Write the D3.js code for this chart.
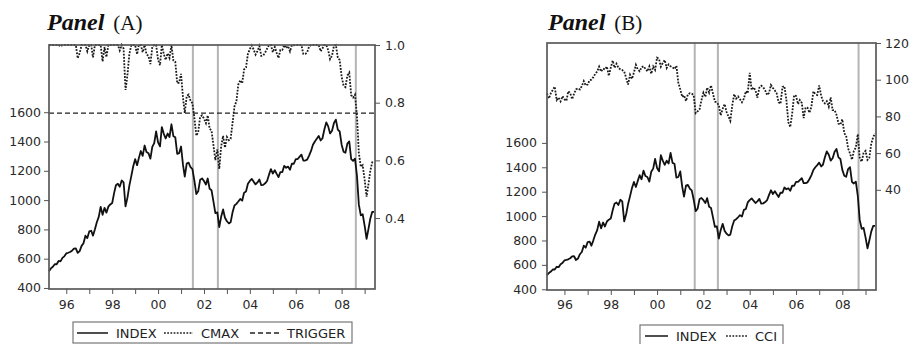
<!DOCTYPE html>
<html>
<head>
<meta charset="utf-8">
<script src="https://cdn.jsdelivr.net/npm/d3@7"></script>
<style>
  body { margin: 0; background: #fff; }
  svg { display: block; }
  .tick text { font-family: "DejaVu Sans", sans-serif; font-size: 12.5px; fill: #2a2a2a; }
  .tick line { stroke: #555; }
  .domain { display: none; }
  .legend text { font-family: "DejaVu Sans", sans-serif; font-size: 13px; fill: #222; }
</style>
</head>
<body>
<div></div>
<script>
const width = 910;
const height = 344;

// monthly observations, Apr 1995 .. Jun 2009
const months = d3.timeMonth.range(new Date(1995, 3, 1), new Date(2009, 6, 1));

const indexValues = [
  514.7, 533.4, 544.8, 562.1, 561.9, 584.4, 581.5, 605.4, 615.9,
  636.0, 640.4, 645.5, 654.2, 669.1, 670.6, 639.9, 652.0, 687.3, 705.3, 757.0, 740.7,
  786.2, 790.8, 757.1, 801.3, 848.3, 885.1, 954.3, 899.5, 947.3, 914.6, 955.4, 970.4,
  980.3, 1049.3, 1101.8, 1111.8, 1090.8, 1133.8, 1120.7, 957.3, 1017.0, 1098.7, 1163.6, 1229.2,
  1279.6, 1238.3, 1286.4, 1335.2, 1301.8, 1372.7, 1328.7, 1320.4, 1282.7, 1362.9, 1388.9, 1469.3,
  1394.5, 1366.4, 1498.6, 1452.4, 1420.6, 1454.6, 1430.8, 1517.7, 1436.5, 1429.4, 1315.2, 1320.3,
  1366.0, 1239.9, 1160.3, 1249.5, 1256.0, 1224.4, 1211.2, 1133.6, 1040.9, 1059.8, 1139.5, 1148.1,
  1130.2, 1106.7, 1147.4, 1076.9, 1067.1, 989.8, 911.6, 916.1, 815.3, 885.8, 936.3, 879.8,
  855.7, 841.2, 848.2, 916.9, 963.6, 974.5, 990.3, 1008.0, 996.0, 1050.7, 1058.2, 1111.9,
  1131.1, 1144.9, 1126.2, 1107.3, 1120.7, 1140.8, 1101.7, 1104.2, 1114.6, 1130.2, 1173.8, 1211.9,
  1181.3, 1203.6, 1180.6, 1156.9, 1191.5, 1191.3, 1234.2, 1220.3, 1228.8, 1207.0, 1249.5, 1248.3,
  1280.1, 1280.7, 1294.8, 1310.6, 1270.1, 1270.2, 1276.7, 1303.8, 1335.9, 1377.9, 1400.6, 1418.3,
  1438.2, 1406.8, 1420.9, 1482.4, 1530.6, 1503.4, 1455.3, 1474.0, 1526.8, 1549.4, 1481.1, 1468.4,
  1378.6, 1330.6, 1322.7, 1385.6, 1400.4, 1280.0, 1267.4, 1282.8, 1166.4, 968.8, 896.2, 903.3,
  825.9, 735.1, 797.9, 872.8, 919.1, 919.3
];

const cmaxValues = [
  1, 1, 1, 1, 1, 1, 0.995, 1, 1,
  1, 1, 1, 1, 1, 1, 0.954, 0.972, 1, 1, 1, 0.978,
  1, 1, 0.957, 1, 1, 1, 1, 0.943, 0.993, 0.958, 1, 1,
  1, 1, 1, 1, 0.981, 1, 0.988, 0.844, 0.897, 0.969, 1, 1,
  1, 0.968, 1, 1, 0.975, 1, 0.968, 0.962, 0.934, 0.993, 1, 1,
  0.949, 0.930, 1, 0.969, 0.948, 0.971, 0.955, 1, 0.946, 0.942, 0.867, 0.870,
  0.900, 0.817, 0.765, 0.823, 0.828, 0.807, 0.798, 0.747, 0.686, 0.698, 0.751, 0.756,
  0.745, 0.729, 0.756, 0.710, 0.703, 0.652, 0.601, 0.638, 0.570, 0.648, 0.685, 0.644,
  0.681, 0.670, 0.675, 0.730, 0.787, 0.805, 0.863, 0.878, 0.867, 0.915, 0.922, 0.969,
  0.986, 0.998, 0.984, 0.967, 0.979, 0.996, 0.962, 0.964, 0.974, 0.987, 1, 1,
  0.975, 0.993, 0.974, 0.955, 0.983, 0.983, 1, 0.989, 0.996, 0.978, 1, 0.999,
  1, 1, 1, 1, 0.969, 0.969, 0.974, 0.995, 1, 1, 1, 1,
  1, 0.978, 0.988, 1, 1, 0.982, 0.951, 0.963, 0.998, 1, 0.956, 0.948,
  0.890, 0.859, 0.854, 0.894, 0.904, 0.826, 0.818, 0.828, 0.753, 0.625, 0.578, 0.583,
  0.533, 0.474, 0.515, 0.563, 0.593, 0.593
];

const cciValues = [
  92.5, 89.8, 92.7, 94.4, 96.2, 88.9, 90.2, 88.2, 91.0,
  89.3, 88.5, 93.7, 92.7, 89.4, 92.4, 94.7, 95.3, 94.7, 96.5, 99.2, 96.9,
  97.4, 99.7, 100.0, 101.4, 103.2, 104.5, 107.1, 104.4, 106.0, 105.6, 107.2, 102.1,
  106.6, 110.4, 106.5, 108.7, 106.5, 105.6, 105.2, 104.4, 100.9, 97.4, 102.7, 100.5,
  103.9, 108.1, 105.7, 104.6, 106.8, 107.3, 106.0, 104.5, 107.2, 103.2, 107.2, 105.4,
  112.0, 111.3, 107.1, 109.2, 110.7, 106.4, 108.3, 107.3, 106.8, 105.8, 107.6, 98.4,
  94.7, 90.6, 91.5, 88.4, 92.0, 92.6, 92.4, 91.5, 81.8, 82.7, 83.9, 88.8,
  93.0, 90.7, 95.7, 93.0, 96.9, 92.4, 88.1, 87.6, 86.1, 80.6, 84.2, 86.7,
  82.4, 79.9, 77.6, 86.0, 92.1, 89.7, 90.9, 89.3, 87.7, 89.6, 93.7, 92.6,
  103.8, 94.4, 95.8, 94.2, 90.2, 95.6, 96.7, 95.9, 94.2, 91.7, 92.8, 97.1,
  95.5, 94.1, 92.6, 87.7, 86.9, 96.0, 96.5, 89.1, 76.9, 74.2, 81.6, 91.5,
  91.2, 86.7, 88.9, 87.4, 79.1, 84.9, 84.7, 82.0, 85.4, 93.6, 92.1, 91.7,
  96.9, 91.3, 88.4, 87.1, 88.3, 85.3, 90.4, 83.4, 83.4, 80.9, 76.1, 75.5,
  78.4, 70.8, 69.5, 62.6, 59.8, 56.4, 61.2, 63.0, 70.3, 57.6, 55.3, 60.1,
  61.2, 56.3, 57.3, 65.1, 68.7, 70.8
];

const triggerLevel = 0.764;

const signalDatesA = ["2001-07-08", "2002-08-10", "2008-08-14"];
const signalDatesB = ["2001-08-17", "2002-08-17", "2008-09-13"];

const yearTicks = d3.range(1996, 2010);
const indexTicks = [400, 600, 800, 1000, 1200, 1400, 1600];
const cmaxTicks = [0.4, 0.6, 0.8, 1.0];
const cciTicks = [40, 60, 80, 100, 120];

const svg = d3
  .select("div")
  .append("svg")
  .attr("width", width)
  .attr("height", height);

const parseDay = d3.timeParse("%Y-%m-%d");
const dotted = "1.8,1.4";

function drawPanel(p) {
  const g = svg.append("g");

  const scale_X = d3
    .scaleTime()
    .domain([new Date(1995, 3, 1), new Date(2009, 5, 15)])
    .range([p.left, p.right]);
  const scale_L = d3.scaleLinear().domain(p.leftDomain).range([p.bottom, p.top]);
  const scale_R = d3.scaleLinear().domain(p.rightDomain).range([p.bottom, p.top]);

  // signal lines
  g.selectAll(".signal")
    .data(p.signals)
    .enter()
    .append("line")
    .attr("class", "signal")
    .attr("x1", (d) => scale_X(parseDay(d)))
    .attr("x2", (d) => scale_X(parseDay(d)))
    .attr("y1", p.top)
    .attr("y2", p.bottom)
    .attr("stroke", "#b4b4b4")
    .attr("stroke-width", 2);

  if (p.trigger != null) {
    g.append("line")
      .attr("x1", p.left)
      .attr("x2", p.right)
      .attr("y1", scale_R(p.trigger))
      .attr("y2", scale_R(p.trigger))
      .attr("stroke", "#222")
      .attr("stroke-width", 1.3)
      .attr("stroke-dasharray", "5,3");
  }

  const lineR = d3
    .line()
    .x((d, i) => scale_X(months[i]))
    .y((d) => scale_R(d));
  g.append("path")
    .datum(p.rightSeries)
    .attr("d", lineR)
    .attr("fill", "none")
    .attr("stroke", "#1a1a1a")
    .attr("stroke-width", 1.8)
    .attr("stroke-dasharray", dotted);

  const lineL = d3
    .line()
    .x((d, i) => scale_X(months[i]))
    .y((d) => scale_L(d));
  g.append("path")
    .datum(indexValues)
    .attr("d", lineL)
    .attr("fill", "none")
    .attr("stroke", "#111")
    .attr("stroke-width", 1.8)
    .attr("stroke-linejoin", "round");

  // frame
  g.append("rect")
    .attr("x", p.left)
    .attr("y", p.top)
    .attr("width", p.right - p.left)
    .attr("height", p.bottom - p.top)
    .attr("fill", "none")
    .attr("stroke", "#5a5a5a")
    .attr("stroke-width", 1.7);

  const axis_X = d3
    .axisBottom(scale_X)
    .tickValues(yearTicks.map((y) => new Date(y, 0, 1)))
    .tickSize(5)
    .tickPadding(p.xPad)
    .tickFormat((d) => (d.getFullYear() % 2 === 0 ? d3.timeFormat("%y")(d) : ""));
  g.append("g")
    .attr("transform", "translate(0, " + p.bottom + ")")
    .call(axis_X);

  const axis_L = d3
    .axisLeft(scale_L)
    .tickValues(indexTicks)
    .tickSize(5)
    .tickPadding(p.lPad)
    .tickFormat(d3.format("d"));
  g.append("g")
    .attr("transform", "translate(" + p.left + ", 0)")
    .call(axis_L);

  const axis_R = d3
    .axisRight(scale_R)
    .tickValues(p.rightTicks)
    .tickSize(5)
    .tickPadding(p.rPad)
    .tickFormat(p.rightFormat);
  g.append("g")
    .attr("transform", "translate(" + p.right + ", 0)")
    .call(axis_R);

  // title
  const title = g
    .append("text")
    .attr("x", p.titleX)
    .attr("y", 30)
    .attr("font-family", "'Liberation Serif', 'Times New Roman', serif")
    .attr("fill", "#111");
  title
    .append("tspan")
    .text("Panel")
    .attr("font-size", 24)
    .attr("font-weight", "bold")
    .attr("font-style", "italic");
  title
    .append("tspan")
    .text(p.label)
    .attr("dx", 9)
    .attr("font-size", 21);

  // legend
  const legend = g.append("g").attr("class", "legend");
  legend
    .append("rect")
    .attr("x", p.legend.x)
    .attr("y", p.legend.y)
    .attr("width", p.legend.w)
    .attr("height", 21)
    .attr("fill", "#fff")
    .attr("stroke", "#777")
    .attr("stroke-width", 1.2);
  p.legend.items.forEach((item) => {
    legend
      .append("line")
      .attr("x1", item.x)
      .attr("x2", item.x + item.len)
      .attr("y1", p.legend.y + 11)
      .attr("y2", p.legend.y + 11)
      .attr("stroke", "#222")
      .attr("stroke-width", 1.6)
      .attr("stroke-dasharray", item.dash);
    legend
      .append("text")
      .attr("x", item.x + item.len + 8)
      .attr("y", p.legend.y + 15.5)
      .text(item.name);
  });
}

drawPanel({
  left: 49,
  right: 375,
  top: 45,
  bottom: 289,
  leftDomain: [393, 2059],
  rightDomain: [0.154, 1.0],
  rightSeries: cmaxValues,
  rightTicks: cmaxTicks,
  rightFormat: d3.format(".1f"),
  trigger: triggerLevel,
  signals: signalDatesA,
  xPad: 6,
  lPad: 3,
  rPad: 5,
  titleX: 47,
  label: "(A)",
  legend: {
    x: 73,
    y: 322,
    w: 279,
    items: [
      { name: "INDEX", x: 77, len: 31, dash: null },
      { name: "CMAX", x: 164, len: 29, dash: dotted },
      { name: "TRIGGER", x: 250, len: 29, dash: "5,3" }
    ]
  }
});

drawPanel({
  left: 547,
  right: 876,
  top: 43,
  bottom: 290,
  leftDomain: [394, 2419],
  rightDomain: [-14.6, 120],
  rightSeries: cciValues,
  rightTicks: cciTicks,
  rightFormat: d3.format("d"),
  trigger: null,
  signals: signalDatesB,
  xPad: 5,
  lPad: 5,
  rPad: 4,
  titleX: 548,
  label: "(B)",
  legend: {
    x: 640,
    y: 325,
    w: 143,
    items: [
      { name: "INDEX", x: 645, len: 23, dash: null },
      { name: "CCI", x: 726, len: 21, dash: dotted }
    ]
  }
});
</script>
</body>
</html>
